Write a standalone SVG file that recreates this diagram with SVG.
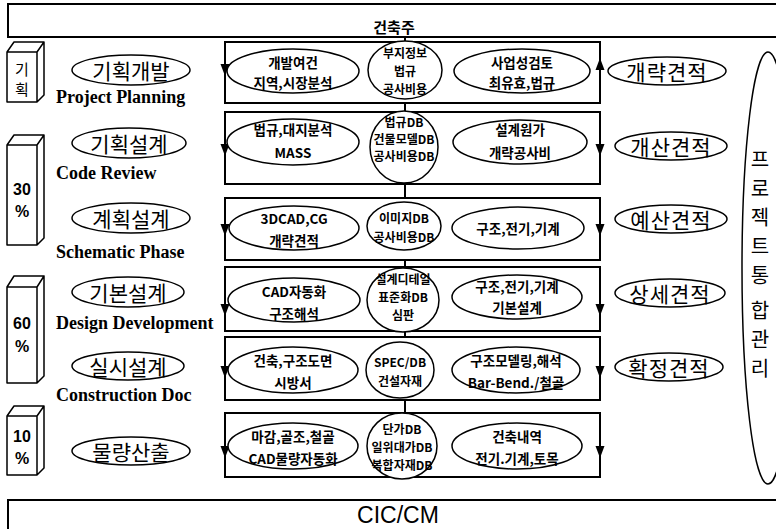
<svg xmlns="http://www.w3.org/2000/svg" xmlns:xlink="http://www.w3.org/1999/xlink" width="776" height="529" viewBox="0 0 776 529">
<style>
.bx{fill:none;stroke:#000;stroke-width:2}
.el{fill:#fff;stroke:#000;stroke-width:1.5}
.cn{fill:none;stroke:#000;stroke-width:2}
.prism{fill:#fff;stroke:#000;stroke-width:1.5;stroke-linejoin:round}
.t{font-family:"Noto Sans CJK KR","Liberation Sans",sans-serif;font-size:13.5px;font-weight:700;text-anchor:middle;dominant-baseline:central;fill:#000}
.c{font-family:"Noto Sans CJK KR","Liberation Sans",sans-serif;font-size:12px;font-weight:700;text-anchor:middle;dominant-baseline:central;fill:#000}
.lab{font-family:"Noto Sans CJK KR",sans-serif;font-size:21px;font-weight:400;text-anchor:middle;dominant-baseline:central;fill:#000}
.rlab{font-family:"Noto Sans CJK KR",sans-serif;font-size:21px;font-weight:400;text-anchor:middle;dominant-baseline:central;letter-spacing:1px;fill:#000}
.en{font-family:"Liberation Serif",serif;font-size:18px;font-weight:700;fill:#000}
.pc{font-family:"Liberation Sans",sans-serif;font-size:16px;font-weight:700;text-anchor:middle;dominant-baseline:central;fill:#000}
.pk{font-family:"Noto Sans CJK KR",sans-serif;font-size:15px;font-weight:400;text-anchor:middle;dominant-baseline:central;fill:#000}
.vt{font-family:"Noto Sans CJK KR",sans-serif;font-size:20px;font-weight:400;text-anchor:middle;dominant-baseline:central;fill:#000}
.hd{font-family:"Noto Sans CJK KR",sans-serif;font-size:15px;font-weight:700;text-anchor:middle;fill:#000}
.cic{font-family:"Liberation Sans",sans-serif;font-size:23px;font-weight:400;text-anchor:middle;fill:#000}
</style>
<defs>
<polygon id="ad" points="0,0 -4.5,-12 4.5,-12" fill="#000"/>
<polygon id="au" points="0,0 -4.5,12 4.5,12" fill="#000"/>
</defs>

<g id="owner">
<rect class="bx" x="8" y="4" width="800" height="33"/>
<text class="hd" x="394" y="33">건축주</text>
</g>

<g id="cic">
<rect class="bx" x="8" y="500" width="800" height="60"/>
<text class="cic" x="398" y="523">CIC/CM</text>
</g>

<g id="connectors">
<line class="cn" x1="405" y1="37" x2="405" y2="42"/>
<line class="cn" x1="405" y1="103" x2="405" y2="112"/>
<line class="cn" x1="405" y1="184" x2="405" y2="198"/>
<line class="cn" x1="405" y1="260" x2="405" y2="267"/>
<line class="cn" x1="405" y1="331" x2="405" y2="337"/>
<line class="cn" x1="405" y1="400" x2="405" y2="413"/>
<use href="#ad" x="225" y="76"/>
<use href="#au" x="600" y="58"/>
<use href="#ad" x="225" y="156"/>
<use href="#ad" x="600" y="156"/>
<use href="#ad" x="225" y="236"/>
<use href="#ad" x="600" y="236"/>
<use href="#ad" x="225" y="316"/>
<use href="#ad" x="600" y="316"/>
<use href="#ad" x="225" y="378"/>
<use href="#ad" x="600" y="378"/>
<use href="#ad" x="225" y="458"/>
<use href="#ad" x="600" y="458"/>
</g>

<g id="row1">
<rect class="bx" x="225" y="42" width="375" height="61"/>
<ellipse class="el" cx="293" cy="71" rx="66" ry="22"/>
<text class="t" x="293" y="62">개발여건</text>
<text class="t" x="293" y="82">지역,시장분석</text>
<ellipse class="el" cx="405" cy="70" rx="37" ry="29"/>
<text class="c" x="405" y="52">부지정보</text>
<text class="c" x="405" y="70">법규</text>
<text class="c" x="405" y="88">공사비용</text>
<ellipse class="el" cx="522" cy="71" rx="68" ry="22"/>
<text class="t" x="522" y="62">사업성검토</text>
<text class="t" x="522" y="82">최유효,법규</text>
</g>

<g id="row2">
<rect class="bx" x="225" y="112" width="375" height="72"/>
<ellipse class="el" cx="293" cy="142" rx="66" ry="23"/>
<text class="t" x="293" y="129">법규,대지분석</text>
<text class="t" x="293" y="152">MASS</text>
<ellipse class="el" cx="404" cy="147" rx="34" ry="36"/>
<text class="c" x="404" y="121">법규DB</text>
<text class="c" x="404" y="138">건물모델DB</text>
<text class="c" x="404" y="155">공사비용DB</text>
<ellipse class="el" cx="520" cy="142" rx="67" ry="22"/>
<text class="t" x="520" y="129">설계원가</text>
<text class="t" x="520" y="152">개략공사비</text>
</g>

<g id="row3">
<rect class="bx" x="225" y="198" width="375" height="62"/>
<ellipse class="el" cx="294" cy="228" rx="65" ry="22"/>
<text class="t" x="294" y="218">3DCAD,CG</text>
<text class="t" x="294" y="240">개략견적</text>
<ellipse class="el" cx="404" cy="226" rx="37" ry="24"/>
<text class="c" x="404" y="217">이미지DB</text>
<text class="c" x="404" y="236">공사비용DB</text>
<ellipse class="el" cx="518" cy="228" rx="66" ry="21"/>
<text class="t" x="518" y="228">구조,전기,기계</text>
</g>

<g id="row4">
<rect class="bx" x="225" y="267" width="375" height="64"/>
<ellipse class="el" cx="294" cy="300" rx="66" ry="22"/>
<text class="t" x="294" y="291">CAD자동화</text>
<text class="t" x="294" y="313">구조해석</text>
<ellipse class="el" cx="403" cy="300" rx="36" ry="32"/>
<text class="c" x="403" y="278">설계디테일</text>
<text class="c" x="403" y="296">표준화DB</text>
<text class="c" x="403" y="314">심판</text>
<ellipse class="el" cx="517" cy="297" rx="65" ry="22"/>
<text class="t" x="517" y="286">구조,전기,기계</text>
<text class="t" x="517" y="307">기본설계</text>
</g>

<g id="row5">
<rect class="bx" x="225" y="337" width="375" height="63"/>
<ellipse class="el" cx="293" cy="370" rx="65" ry="23"/>
<text class="t" x="293" y="360">건축,구조도면</text>
<text class="t" x="293" y="382">시방서</text>
<ellipse class="el" cx="400" cy="370" rx="34" ry="28"/>
<text class="c" x="400" y="361">SPEC/DB</text>
<text class="c" x="400" y="380">건설자재</text>
<ellipse class="el" cx="516" cy="370" rx="64" ry="23"/>
<text class="t" x="516" y="360">구조모델링,해석</text>
<text class="t" x="516" y="382">Bar-Bend./철골</text>
</g>

<g id="row6">
<rect class="bx" x="225" y="413" width="375" height="64"/>
<ellipse class="el" cx="293" cy="446" rx="65" ry="23"/>
<text class="t" x="293" y="436">마감,골조,철골</text>
<text class="t" x="293" y="458">CAD물량자동화</text>
<ellipse class="el" cx="402" cy="446" rx="35" ry="33"/>
<text class="c" x="402" y="428">단가DB</text>
<text class="c" x="402" y="446">일위대가DB</text>
<text class="c" x="402" y="464">복합자재DB</text>
<ellipse class="el" cx="517" cy="446" rx="65" ry="23"/>
<text class="t" x="517" y="436">건축내역</text>
<text class="t" x="517" y="458">전기.기계,토목</text>
</g>

<g id="phase1">
<path class="prism" d="M7 52 L14 42 L44 42 L37 52 Z M37 52 L44 42 L44 95 L37 102 Z M7 52 H37 V102 H7 Z"/>
<text class="pk" x="22" y="68">기</text>
<text class="pk" x="22" y="88">획</text>
<ellipse class="el" cx="131" cy="70" rx="59" ry="15"/>
<text class="lab" x="131" y="70">기획개발</text>
<text class="en" x="56" y="103">Project Planning</text>
</g>

<g id="phase2">
<path class="prism" d="M7 145 L14 135 L44 135 L37 145 Z M37 145 L44 135 L44 238 L37 245 Z M7 145 H37 V245 H7 Z"/>
<text class="pc" x="22" y="189">30</text>
<text class="pc" x="22" y="211">%</text>
<ellipse class="el" cx="129" cy="143" rx="57" ry="15"/>
<text class="lab" x="129" y="143">기획설계</text>
<text class="en" x="56" y="179">Code Review</text>
<ellipse class="el" cx="131" cy="218" rx="59" ry="15"/>
<text class="lab" x="131" y="218">계획설계</text>
<text class="en" x="56" y="258">Schematic Phase</text>
</g>

<g id="phase3">
<path class="prism" d="M7 287 L14 276 L44 276 L37 287 Z M37 287 L44 276 L44 376 L37 383 Z M7 287 H37 V383 H7 Z"/>
<text class="pc" x="22" y="323">60</text>
<text class="pc" x="22" y="346">%</text>
<ellipse class="el" cx="128" cy="292" rx="56" ry="15"/>
<text class="lab" x="128" y="292">기본설계</text>
<text class="en" x="56" y="329">Design Development</text>
<ellipse class="el" cx="128" cy="366" rx="56" ry="14"/>
<text class="lab" x="128" y="366">실시설계</text>
<text class="en" x="56" y="401">Construction Doc</text>
</g>

<g id="phase4">
<path class="prism" d="M7 416 L14 406 L44 406 L37 416 Z M37 416 L44 406 L44 468 L37 475 Z M7 416 H37 V475 H7 Z"/>
<text class="pc" x="22" y="436">10</text>
<text class="pc" x="22" y="458">%</text>
<ellipse class="el" cx="131" cy="451" rx="59" ry="14"/>
<text class="lab" x="131" y="451">물량산출</text>
</g>

<g id="estimates">
<ellipse class="el" cx="667" cy="71" rx="59" ry="14"/>
<text class="rlab" x="667" y="71">개략견적</text>
<ellipse class="el" cx="671" cy="146" rx="56" ry="14"/>
<text class="rlab" x="671" y="146">개산견적</text>
<ellipse class="el" cx="671" cy="219" rx="56" ry="14"/>
<text class="rlab" x="671" y="219">예산견적</text>
<ellipse class="el" cx="670" cy="293" rx="55" ry="14"/>
<text class="rlab" x="670" y="293">상세견적</text>
<ellipse class="el" cx="669" cy="367" rx="54" ry="14"/>
<text class="rlab" x="669" y="367">확정견적</text>
</g>

<g id="integration">
<ellipse class="el" cx="768" cy="268" rx="26" ry="216"/>
<text class="vt" x="760" y="158">프</text>
<text class="vt" x="760" y="187">로</text>
<text class="vt" x="760" y="216">젝</text>
<text class="vt" x="760" y="245">트</text>
<text class="vt" x="760" y="274">통</text>
<text class="vt" x="760" y="309">합</text>
<text class="vt" x="760" y="338">관</text>
<text class="vt" x="760" y="367">리</text>
</g>
</svg>
